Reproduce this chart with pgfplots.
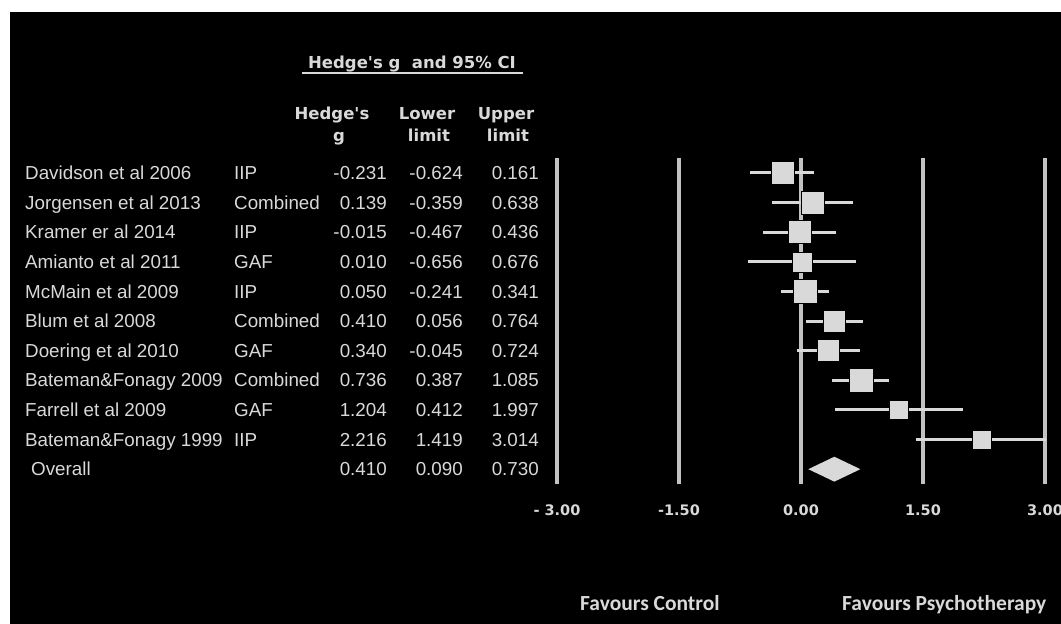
\documentclass[border=0pt]{standalone}
\usepackage{pgfplots}
\pgfplotsset{compat=1.18}
\usepackage{pgfplotstable}
\usepackage{fontspec}
\setmainfont{Liberation Sans}[Ligatures=TeXOff]
\newfontfamily\dv{DejaVu Sans}[Ligatures=TeXOff]
\newfontfamily\carl{Carlito}
\definecolor{tx}{gray}{0.85}
\definecolor{gridc}{gray}{0.76}
\definecolor{cic}{gray}{0.85}
\definecolor{sq}{gray}{0.85}

% y = row (11 = top), g = Hedge's g, em/ep = distance to lower/upper limit
\pgfplotstableread{
y   g       em     ep
11  -0.231  0.393  0.392
10   0.139  0.498  0.499
9   -0.015  0.452  0.451
8    0.010  0.666  0.666
7    0.050  0.291  0.291
6    0.410  0.354  0.354
5    0.340  0.385  0.384
4    0.736  0.349  0.349
3    1.204  0.792  0.793
2    2.216  0.797  0.798
}\studies

\newcommand\tfont{\fontsize{18.8pt}{22pt}\selectfont}
\pgfplotsset{sqmark/.style={only marks, mark=square*, mark options={fill=sq, draw=none}, mark size=#1}}

\begin{document}
\begin{tikzpicture}
\useasboundingbox (0pt,0pt) rectangle (1061pt,-624pt);
\fill[white] (0pt,0pt) rectangle (1061pt,-624pt);
\fill[black] (10pt,-12pt) rectangle (1061pt,-624pt);

\begin{axis}[
  at={(557pt,-484pt)}, anchor=south west,
  scale only axis, width=488pt, height=326pt,
  xmin=-3, xmax=3, ymin=0.5, ymax=11.5,
  axis line style={draw=none},
  ytick=\empty,
  xtick={-3,-1.5,0,1.5,3},
  xticklabels={{- 3.00},{-1.50},{0.00},{1.50},{3.00}},
  major tick length=0pt,
  xmajorgrids,
  grid style={line width=3.7pt, draw=gridc},
  xticklabel style={anchor=base, yshift=-31.3pt, text=tx,
    font=\dv\bfseries\fontsize{14.5pt}{17pt}\selectfont},
  clip=false,
]
% confidence intervals
\addplot[only marks, mark=none,
  error bars/.cd, x dir=both, x explicit, error mark=none,
  error bar style={line width=3pt, draw=cic}]
  table[x=g, y=y, x error minus=em, x error plus=ep]{\studies};
% study squares (mark size = half the side, in px)
\addplot[sqmark=11.5pt]  coordinates {(-0.231,11)};
\addplot[sqmark=11.5pt]  coordinates {(0.139,10)};
\addplot[sqmark=11.5pt]  coordinates {(-0.015,9)};
\addplot[sqmark=10pt]    coordinates {(0.010,8)};
\addplot[sqmark=12pt]    coordinates {(0.050,7)};
\addplot[sqmark=11.25pt] coordinates {(0.410,6)};
\addplot[sqmark=11pt]    coordinates {(0.340,5)};
\addplot[sqmark=12pt]    coordinates {(0.736,4)};
\addplot[sqmark=9.5pt]   coordinates {(1.204,3)};
\addplot[sqmark=9.5pt]   coordinates {(2.216,2)};
% overall diamond
\addplot[fill=sq, draw=none] coordinates {(0.090,1) (0.410,1.42) (0.730,1) (0.410,0.58)} -- cycle;
\end{axis}

% header
\node[anchor=base, text=tx, font=\dv\bfseries\fontsize{16.5pt}{19pt}\selectfont, inner sep=0pt]
  at (412pt,-68pt) {Hedge's g\ \ and 95\% CI};
\draw[tx, line width=1.6pt] (302pt,-73pt) -- (523pt,-73pt);
\begin{scope}[every node/.style={anchor=base, text=tx, inner sep=0pt,
    font=\dv\bfseries\fontsize{16.5pt}{19pt}\selectfont}]
\node at (332pt,-119pt) {Hedge's};
\node at (339pt,-141pt) {g};
\node at (427pt,-119pt) {Lower};
\node at (429pt,-141pt) {limit};
\node at (506pt,-119pt) {Upper};
\node at (508pt,-141pt) {limit};
\end{scope}

% table
\foreach \n/\t/\g/\l/\u [count=\i] in {
  Davidson et al 2006/IIP/-0.231/-0.624/0.161,
  Jorgensen et al 2013/Combined/0.139/-0.359/0.638,
  Kramer er al 2014/IIP/-0.015/-0.467/0.436,
  Amianto et al 2011/GAF/0.010/-0.656/0.676,
  McMain et al 2009/IIP/0.050/-0.241/0.341,
  Blum et al 2008/Combined/0.410/0.056/0.764,
  Doering et al 2010/GAF/0.340/-0.045/0.724,
  Bateman\&Fonagy 2009/Combined/0.736/0.387/1.085,
  Farrell et al 2009/GAF/1.204/0.412/1.997,
  Bateman\&Fonagy 1999/IIP/2.216/1.419/3.014}
{
  \pgfmathsetmacro\yb{-(179.5+29.636*(\i-1))}
  \node[anchor=base west, inner sep=0pt, text=tx, font=\tfont] at (25pt,\yb pt) {\n};
  \node[anchor=base west, inner sep=0pt, text=tx, font=\tfont] at (234pt,\yb pt) {\t};
  \node[anchor=base east, inner sep=0pt, text=tx, font=\tfont] at (387pt,\yb pt) {\g};
  \node[anchor=base east, inner sep=0pt, text=tx, font=\tfont] at (463pt,\yb pt) {\l};
  \node[anchor=base east, inner sep=0pt, text=tx, font=\tfont] at (539pt,\yb pt) {\u};
}
\pgfmathsetmacro\yb{-(179.5+29.636*10)}
\node[anchor=base west, inner sep=0pt, text=tx, font=\tfont] at (31pt,\yb pt) {Overall};
\node[anchor=base east, inner sep=0pt, text=tx, font=\tfont] at (387pt,\yb pt) {0.410};
\node[anchor=base east, inner sep=0pt, text=tx, font=\tfont] at (463pt,\yb pt) {0.090};
\node[anchor=base east, inner sep=0pt, text=tx, font=\tfont] at (539pt,\yb pt) {0.730};

% bottom labels
\node[anchor=base west, inner sep=0pt, text=tx, font=\carl\bfseries\fontsize{21.5pt}{24pt}\selectfont]
  at (580pt,-610pt) {Favours Control};
\node[anchor=base west, inner sep=0pt, text=tx, font=\carl\bfseries\fontsize{21.5pt}{24pt}\selectfont]
  at (842pt,-610pt) {Favours Psychotherapy};
\end{tikzpicture}
\end{document}
